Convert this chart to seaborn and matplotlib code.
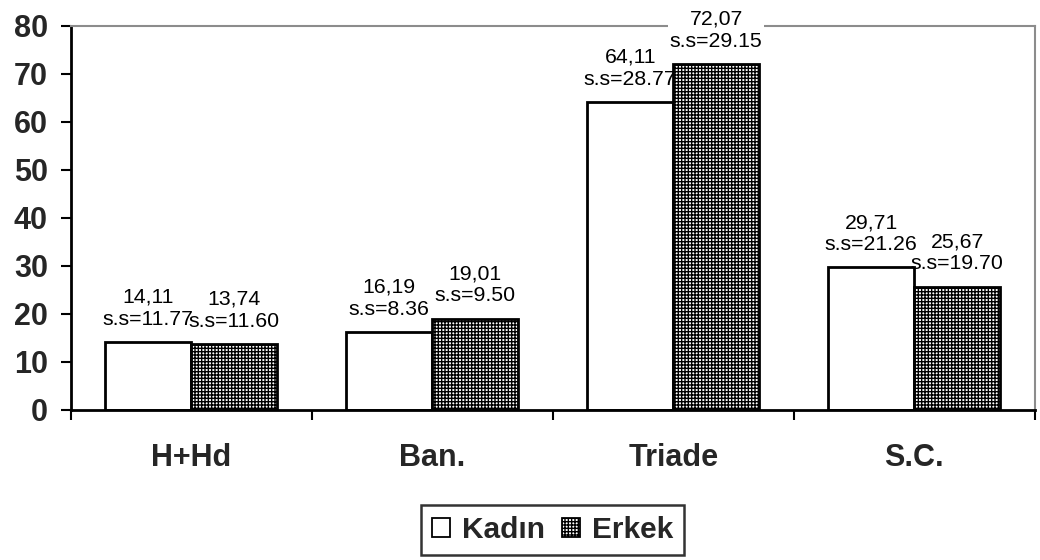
import matplotlib
matplotlib.use("Agg")
import matplotlib.pyplot as plt
from matplotlib.patches import Patch
import seaborn as sns
import pandas as pd

categories = ["H+Hd", "Ban.", "Triade", "S.C."]
groups = ["Kadın", "Erkek"]
kadin = [14.11, 16.19, 64.11, 29.71]
erkek = [13.74, 19.01, 72.07, 25.67]
kadin_sd = [11.77, 8.36, 28.77, 21.26]
erkek_sd = [11.60, 9.50, 29.15, 19.70]
y_ticks = [0, 10, 20, 30, 40, 50, 60, 70, 80]

sns.set_theme(style="white")
plt.rcParams["font.family"] = ["Liberation Sans", "DejaVu Sans"]
plt.rcParams["hatch.linewidth"] = 1.0
plt.rcParams["hatch.color"] = "black"

CHECKER = "+" * 5

df = pd.DataFrame({
    "Kategori": categories * 2,
    "Grup": [groups[0]] * 4 + [groups[1]] * 4,
    "Değer": kadin + erkek,
})

fig = plt.figure(figsize=(10.4, 5.6), dpi=100)
ax = fig.add_axes([0.068, 0.268, 0.927, 0.686])

sns.barplot(data=df, x="Kategori", y="Değer", hue="Grup", order=categories,
            hue_order=groups, palette=["white", "white"], width=0.714,
            edgecolor="black", linewidth=2, errorbar=None, ax=ax, legend=False)

# fine checkered fill for the second group
for patch in ax.containers[1]:
    patch.set_hatch(CHECKER)

# value and standard deviation labels above every bar
top_value = max(kadin + erkek)
for cont, vals, sds in zip(ax.containers, [kadin, erkek], [kadin_sd, erkek_sd]):
    for patch, v, s in zip(cont, vals, sds):
        xc = patch.get_x() + patch.get_width() / 2
        txt = f"{v:.2f}".replace(".", ",") + f"\ns.s={s:.2f}"
        # the tallest label rises past the frame, so it gets a white backing
        box = dict(facecolor="white", edgecolor="none", pad=1.0) if v == top_value else None
        ax.annotate(txt, (xc, v), xytext=(0, 9.5), textcoords="offset points",
                    ha="center", va="bottom", fontsize=15.3, linespacing=1.2,
                    color="black", zorder=5, annotation_clip=False, bbox=box)

ax.set_ylim(0, 80)
ax.set_xlim(-0.5, 3.5)
ax.set_yticks(y_ticks)
ax.set_yticklabels([str(t) for t in y_ticks], fontsize=22, fontweight="bold")
ax.set_xticks(range(len(categories)))
ax.set_xticklabels(categories, fontsize=22, fontweight="bold")
ax.set_xticks([-0.5, 0.5, 1.5, 2.5, 3.5], minor=True)
ax.tick_params(axis="x", which="major", length=0, pad=24)
ax.tick_params(axis="x", which="minor", length=7.5, width=1.5, color="black",
               direction="out", bottom=True)
ax.tick_params(axis="y", length=7.5, width=1.5, color="black", direction="out",
               left=True, pad=9)
ax.set_xlabel("")
ax.set_ylabel("")

for side in ["left", "bottom"]:
    ax.spines[side].set_color("black")
    ax.spines[side].set_linewidth(2)
for side in ["top", "right"]:
    ax.spines[side].set_color("#8c8c8c")
    ax.spines[side].set_linewidth(1.5)

handles = [Patch(facecolor="white", edgecolor="black", linewidth=1.3),
           Patch(facecolor="white", edgecolor="black", linewidth=1.3, hatch=CHECKER)]
leg = ax.legend(handles, groups, loc="center", bbox_to_anchor=(0.5, -0.3125),
                ncol=2, frameon=True, fancybox=False, edgecolor="black",
                handlelength=0.62, handleheight=0.62, handletextpad=0.4,
                columnspacing=0.55, borderpad=0.36, borderaxespad=0,
                prop={"size": 21.5, "weight": "bold"})
leg.get_frame().set_linewidth(1.8)

fig.savefig("out.png", dpi=100, facecolor="white")
